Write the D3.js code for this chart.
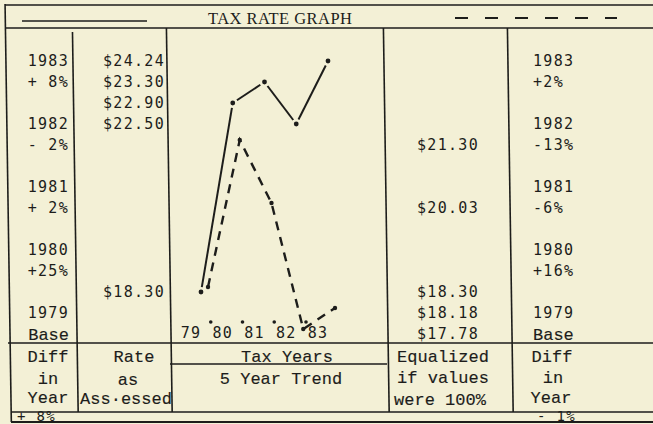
<!DOCTYPE html>
<html>
<head>
<meta charset="utf-8">
<script src="https://cdn.jsdelivr.net/npm/d3@7"></script>
<style>
  html, body { margin: 0; padding: 0; background: #f3f0d6; }
  svg { display: block; }
</style>
</head>
<body>
<div id="chart"></div>
<script>
// data
var years = [1979, 1980, 1981, 1982, 1983];
var yearLabels = ["79", "80", "81", "82", "83"];
var rateAssessed = [18.30, 22.90, 23.30, 22.50, 24.24];
var rateDiff = ["Base", "+25%", "+ 2%", "- 2%", "+ 8%"];
var equalized = [18.30, 21.30, 20.03, 17.78, 18.18];
var equalizedDiff = ["Base", "+16%", "-6%", "-13%", "+2%"];
var footDiff = ["+ 8%", "- 1%"];
var title = "TAX RATE GRAPH";

var width = 653, height = 424;
var ink = "#1d1d1b";
var numFont = "'DejaVu Sans Mono', monospace";
var wordFont = "'Liberation Mono', monospace";

var svg = d3.select("#chart").append("svg")
    .attr("width", width)
    .attr("height", height);

svg.append("rect").attr("width", width).attr("height", height).attr("fill", "#f3f0d6");

// typewriter lines -> pixels
var line = d3.scaleLinear().domain([0, 13]).range([61, 61 + 21 * 13]);
// dollar value -> typewriter line (values are typed on the line of the graph point)
var valueLine = d3.scaleLinear()
    .domain([24.24, 23.30, 22.90, 22.50, 21.30, 20.03, 18.30, 18.18, 17.78])
    .range([0, 1, 2, 3, 4, 7, 11, 12, 13]);
var yearLine = d3.scaleLinear().domain([1983, 1979]).range([0, 12]);
var y = function(v){ return line(valueLine(v)); };
var x = d3.scalePoint().domain(years).range([201, 328]);

// ---- frame (hand ruled, leans slightly to the right going down)
var lean = 0.015;
function vline(x0, y0, y1){
    svg.append("line")
        .attr("x1", x0 + lean * y0).attr("y1", y0)
        .attr("x2", x0 + lean * y1).attr("y2", y1)
        .attr("stroke", ink).attr("stroke-width", 1.6);
}
function hline(x0, x1, yy, w){
    svg.append("line")
        .attr("x1", x0).attr("y1", yy)
        .attr("x2", x1).attr("y2", yy)
        .attr("stroke", ink).attr("stroke-width", w || 1.5);
}
hline(5, 653, 5);
hline(5, 653, 28);
hline(8, 653, 343);
hline(170, 387, 364);
hline(11, 653, 412);
hline(11, 653, 422, 1.8);
vline(5, 4, 422);
vline(72, 32, 412);
vline(166, 28, 412);
vline(383, 28, 412);
vline(507, 28, 412);

// ---- header
svg.append("line").attr("x1", 22).attr("x2", 147).attr("y1", 21).attr("y2", 21)
    .attr("stroke", ink).attr("stroke-width", 1.5);
svg.append("line").attr("x1", 455).attr("x2", 617).attr("y1", 18).attr("y2", 18)
    .attr("stroke", ink).attr("stroke-width", 1.8)
    .attr("stroke-dasharray", "13,17");
svg.append("text")
    .attr("x", 208).attr("y", 23.5)
    .attr("textLength", 144)
    .attr("font-family", "'Liberation Serif', serif")
    .attr("font-size", 16.5)
    .attr("fill", ink)
    .text(title);

// ---- typed numbers
function typed(txt, xx, yy, anchor, font, size){
    var isWord = font === wordFont;
    return svg.append("text")
        .attr("x", xx).attr("y", yy)
        .attr("dy", "0.36em")
        .attr("text-anchor", anchor || "start")
        .attr("font-family", font || numFont)
        .attr("font-size", size || 15)
        .attr("letter-spacing", isWord ? 0 : 1.3)
        .attr("fill", ink)
        .attr("stroke", isWord ? ink : "none")
        .attr("stroke-width", isWord ? 0.15 : 0)
        .text(txt);
}
var money = function(v){ return "$" + d3.format(".2f")(v); };

years.forEach(function(yr, i){
    var l = yearLine(yr);
    var isWord = rateDiff[i] === "Base";
    typed(String(yr), 69, line(l), "end");
    typed(rateDiff[i], 69, line(l + 1), "end", isWord ? wordFont : numFont, isWord ? 17 : 15);
    typed(String(yr), 533, line(l));
    typed(equalizedDiff[i], 533, line(l + 1), "start", isWord ? wordFont : numFont, isWord ? 17 : 15);
});

var rateCol = Array.from(new Set(rateAssessed)).sort(d3.descending);
rateCol.forEach(function(v){ typed(money(v), 165, y(v), "end"); });
var eqCol = Array.from(new Set(equalized)).sort(d3.descending);
eqCol.forEach(function(v){ typed(money(v), 417, y(v)); });

// ---- x axis of the little graph
yearLabels.forEach(function(lab, i){
    typed(lab, x(years[i]) - 10, line(13) - 1, "middle");
    if(i > 0){
        svg.append("circle").attr("cx", x(years[i]) - 22).attr("cy", 322)
            .attr("r", 1.8).attr("fill", ink);
    }
});

// ---- solid line: rate as assessed
var solid = years.map(function(yr, i){ return [x(yr), y(rateAssessed[i])]; });
var g1 = svg.append("g");
for(var i = 0; i < solid.length - 1; i++){
    var a = solid[i], b = solid[i + 1];
    var dx = b[0] - a[0], dy = b[1] - a[1], len = Math.sqrt(dx * dx + dy * dy);
    var gap = 5;
    g1.append("line")
        .attr("x1", a[0] + dx / len * gap).attr("y1", a[1] + dy / len * gap)
        .attr("x2", b[0] - dx / len * gap).attr("y2", b[1] - dy / len * gap)
        .attr("stroke", ink).attr("stroke-width", 2);
}
g1.selectAll("circle").data(solid).enter().append("circle")
    .attr("cx", function(d){ return d[0]; })
    .attr("cy", function(d){ return d[1]; })
    .attr("r", 2.4).attr("fill", ink);

// ---- dashed line: equalized rate
var dashed = years.map(function(yr, i){ return [x(yr) + 7, y(equalized[i]) - 5]; });
svg.append("path")
    .attr("d", d3.line()(dashed))
    .attr("fill", "none")
    .attr("stroke", ink).attr("stroke-width", 2.4)
    .attr("stroke-dasharray", "9,7");
svg.append("g").selectAll("circle").data(dashed).enter().append("circle")
    .attr("cx", function(d){ return d[0]; })
    .attr("cy", function(d){ return d[1]; })
    .attr("r", 2.2).attr("fill", ink);

// ---- column captions
var caps = [
    ["Diff", 48, 356], ["in", 48, 378], ["Year", 48, 397],
    ["Rate", 134, 356], ["as", 128, 379], ["Ass\u00b7essed", 126, 398],
    ["Tax Years", 287, 356], ["5 Year Trend", 281, 378],
    ["Equalized", 443, 356], ["if values", 443, 377], ["were 100%", 440, 399],
    ["Diff", 552, 356], ["in", 553, 377], ["Year", 551, 397]
];
caps.forEach(function(c){ typed(c[0], c[1], c[2], "middle", wordFont, 17); });

typed(footDiff[0], 17, 416, "start", numFont, 14);
typed(footDiff[1], 537, 416, "start", numFont, 14);
</script>
</body>
</html>
